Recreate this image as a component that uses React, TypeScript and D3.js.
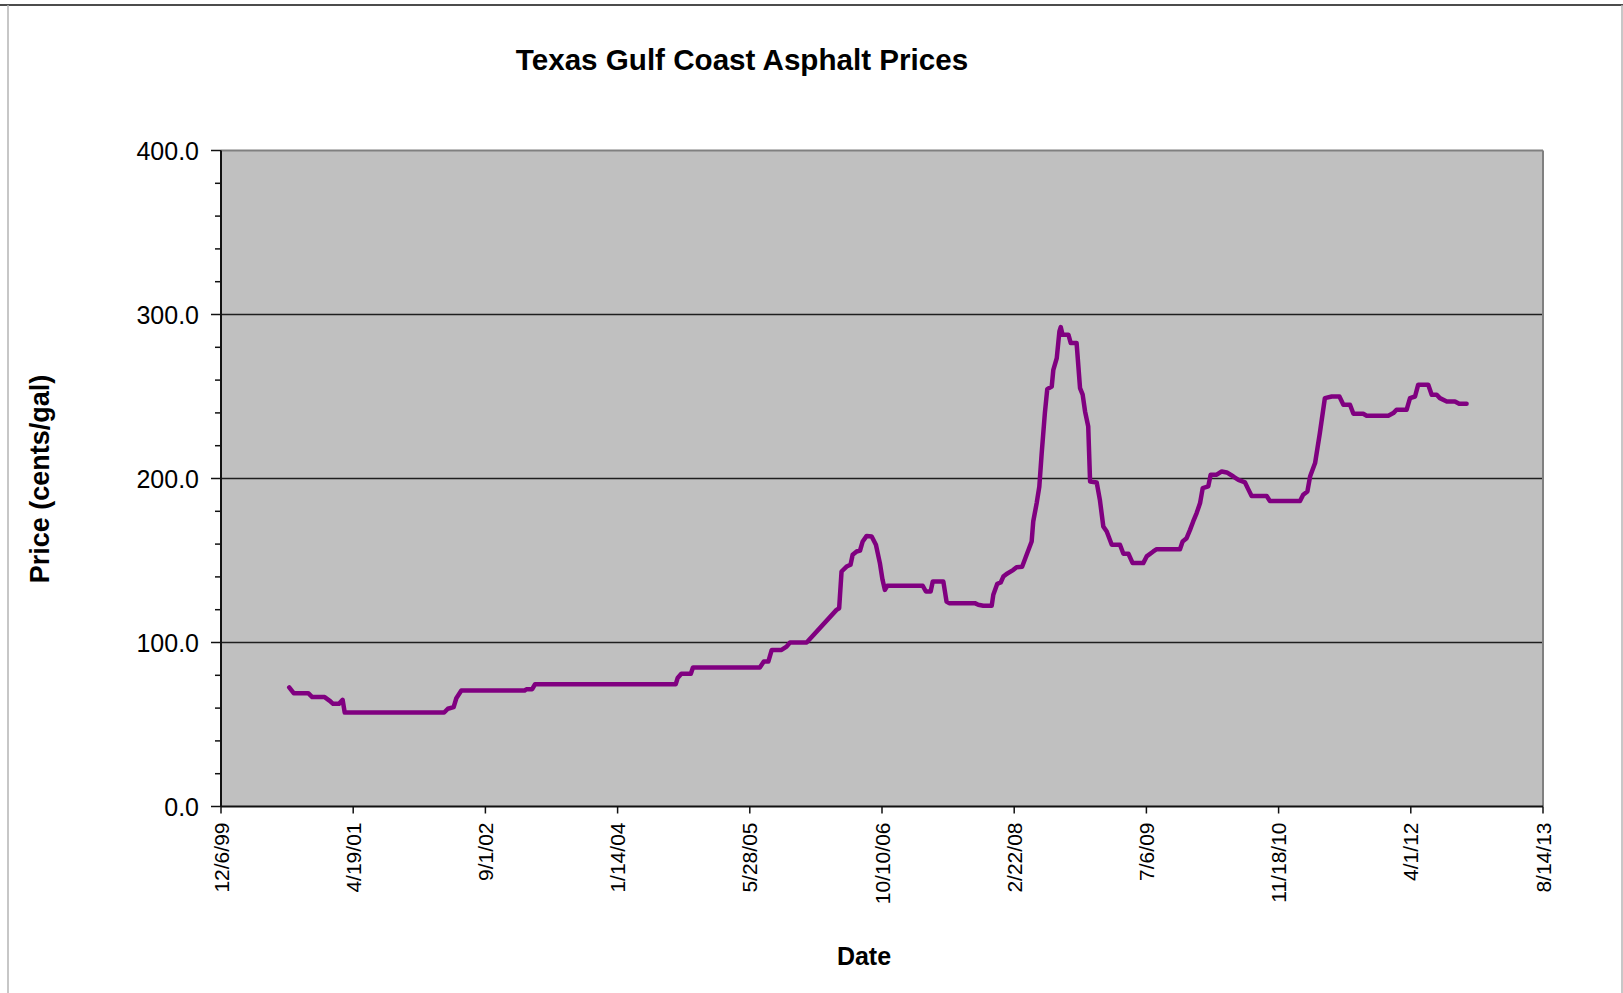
import React from "react";
import * as d3 from "d3";

// Weekly posted price series, cents per gallon
const priceDates = [
  "2000-08-20", "2000-09-06", "2000-10-31", "2000-11-15", "2001-01-01",
  "2001-01-19", "2001-02-02", "2001-02-24", "2001-03-10", "2001-03-18",
  "2002-03-29", "2002-04-12", "2002-05-04", "2002-05-14", "2002-06-02",
  "2003-01-27", "2003-02-03", "2003-02-25", "2003-03-08", "2004-08-21",
  "2004-08-28", "2004-09-11", "2004-10-17", "2004-10-25", "2005-07-05",
  "2005-07-20", "2005-08-06", "2005-08-19", "2005-09-25", "2005-10-14",
  "2005-10-27", "2005-12-29", "2006-04-21", "2006-05-01", "2006-05-10",
  "2006-05-29", "2006-06-13", "2006-06-21", "2006-07-06", "2006-07-19",
  "2006-07-29", "2006-08-13", "2006-09-01", "2006-09-17", "2006-10-02",
  "2006-10-12", "2006-10-21", "2006-10-30", "2007-03-13", "2007-03-25",
  "2007-04-12", "2007-04-20", "2007-05-30", "2007-06-11", "2007-06-21",
  "2007-09-26", "2007-10-09", "2007-10-28", "2007-11-29", "2007-12-05",
  "2007-12-20", "2008-01-02", "2008-01-12", "2008-01-24", "2008-02-19",
  "2008-03-02", "2008-03-23", "2008-04-09", "2008-04-28", "2008-05-04",
  "2008-05-17", "2008-05-27", "2008-06-05", "2008-06-17", "2008-06-26",
  "2008-07-13", "2008-07-19", "2008-08-01", "2008-08-11", "2008-08-16",
  "2008-08-23", "2008-09-14", "2008-09-23", "2008-10-15", "2008-10-28",
  "2008-11-07", "2008-11-16", "2008-11-28", "2008-12-05", "2008-12-30",
  "2009-01-11", "2009-01-24", "2009-02-06", "2009-02-25", "2009-03-28",
  "2009-04-10", "2009-04-29", "2009-05-15", "2009-06-24", "2009-07-07",
  "2009-08-01", "2009-08-14", "2009-11-10", "2009-11-20", "2009-12-05",
  "2009-12-18", "2009-12-30", "2010-01-12", "2010-01-25", "2010-02-04",
  "2010-02-25", "2010-03-06", "2010-03-29", "2010-04-17", "2010-05-06",
  "2010-05-31", "2010-06-19", "2010-07-14", "2010-07-26", "2010-08-08",
  "2010-10-04", "2010-10-16", "2011-02-07", "2011-02-19", "2011-03-07",
  "2011-03-17", "2011-04-05", "2011-04-23", "2011-05-12", "2011-06-07",
  "2011-07-06", "2011-07-21", "2011-08-15", "2011-08-28", "2011-10-04",
  "2011-10-17", "2012-01-07", "2012-01-26", "2012-02-07", "2012-03-16",
  "2012-03-29", "2012-04-17", "2012-04-29", "2012-06-06", "2012-06-19",
  "2012-07-08", "2012-07-20", "2012-08-15", "2012-09-15", "2012-10-01",
  "2012-10-29",
];

const prices = [
  72.6, 69.1, 69.1, 66.7, 66.7,
  64.6, 62.6, 62.6, 65.0, 57.3,
  57.3, 59.6, 60.6, 66.0, 70.7,
  70.7, 71.5, 71.5, 74.6, 74.6,
  78.3, 80.9, 80.9, 84.8, 84.8,
  88.4, 88.4, 95.5, 95.5, 97.5,
  100.0, 100.0, 119.9, 120.9, 143.3,
  146.3, 147.4, 153.5, 155.5, 156.1,
  161.6, 165.0, 164.6, 159.6, 148.4,
  138.2, 132.1, 134.6, 134.6, 131.1,
  131.1, 137.2, 137.2, 125.0, 124.0,
  124.0, 123.0, 122.4, 122.4, 129.1,
  135.8, 136.6, 140.2, 141.8, 144.3,
  145.9, 146.2, 153.5, 161.6, 173.8,
  185.0, 195.1, 215.5, 239.9, 254.5,
  256.1, 266.3, 273.4, 289.7, 292.3,
  287.7, 287.7, 282.6, 282.6, 255.1,
  251.1, 240.9, 231.7, 198.2, 197.6,
  187.0, 170.8, 167.7, 159.6, 159.6,
  154.1, 154.1, 148.4, 148.4, 152.5,
  155.5, 156.9, 156.9, 161.6, 163.6,
  168.7, 173.8, 178.9, 185.0, 194.1,
  195.2, 202.3, 202.3, 204.3, 203.7,
  201.2, 199.2, 197.6, 193.5, 189.3,
  189.3, 186.3, 186.3, 190.1, 192.1,
  201.2, 209.4, 227.7, 249.0, 250.0,
  250.0, 245.0, 245.0, 239.5, 239.5,
  238.3, 238.3, 239.9, 241.9, 241.9,
  249.0, 250.0, 257.2, 257.2, 251.1,
  251.1, 249.0, 247.0, 247.0, 245.6,
  245.6,
];

// Date axis labels (500-day major unit)
const xTickLabels = [
  "12/6/99", "4/19/01", "9/1/02", "1/14/04", "5/28/05", "10/10/06",
  "2/22/08", "7/6/09", "11/18/10", "4/1/12", "8/14/13",
];

const yMajorTicks = [0, 100, 200, 300, 400];
const yMinorTicks = d3.range(0, 401, 20).filter((v) => v % 100 !== 0);
const yGridLines = [100, 200, 300];

const chartTitle = "Texas Gulf Coast Asphalt Prices";
const yAxisTitle = "Price (cents/gal)";
const xAxisTitle = "Date";

const FONT = "'Liberation Sans', Arial, Helvetica, sans-serif";

export default function App() {
  const W = 1623;
  const H = 993;
  const plot = { left: 221, right: 1543, top: 150.5, bottom: 806.5 };

  const parseTick = d3.utcParse("%m/%d/%y");
  const parseIso = d3.utcParse("%Y-%m-%d");
  const tickDates = xTickLabels.map((s) => parseTick(s) as Date);

  const x = d3
    .scaleUtc()
    .domain([tickDates[0], tickDates[tickDates.length - 1]])
    .range([plot.left, plot.right]);
  const y = d3.scaleLinear().domain([0, 400]).range([plot.bottom, plot.top]);

  const points = priceDates.map((d, i) => ({
    date: parseIso(d) as Date,
    value: prices[i],
  }));

  const linePath =
    d3
      .line<{ date: Date; value: number }>()
      .x((d) => x(d.date))
      .y((d) => y(d.value))(points) || "";

  return (
    <svg
      width={W}
      height={H}
      viewBox={`0 0 ${W} ${H}`}
      style={{ position: "absolute", left: 0, top: 0, background: "#fff" }}
      fontFamily={FONT}
    >
      {/* chart area frame */}
      <line x1={0} x2={W} y1={5} y2={5} stroke="#111" strokeWidth={1.5} />
      <line x1={8} x2={8} y1={5} y2={H} stroke="#b5b5b5" strokeWidth={1.5} />
      <line x1={1622} x2={1622} y1={5} y2={H} stroke="#b5b5b5" strokeWidth={1.5} />

      {/* plot background */}
      <rect
        x={plot.left}
        y={plot.top}
        width={plot.right - plot.left}
        height={plot.bottom - plot.top}
        fill="#c0c0c0"
      />

      {/* gridlines */}
      {yGridLines.map((v) => (
        <line
          key={`g${v}`}
          x1={plot.left}
          x2={plot.right}
          y1={y(v)}
          y2={y(v)}
          stroke="#1e1e1e"
          strokeWidth={1.4}
        />
      ))}

      {/* plot border top/right */}
      <line x1={plot.left} x2={plot.right} y1={plot.top} y2={plot.top} stroke="#808080" strokeWidth={2} />
      <line x1={plot.right} x2={plot.right} y1={plot.top} y2={plot.bottom} stroke="#808080" strokeWidth={2} />

      {/* price line */}
      <path
        d={linePath}
        fill="none"
        stroke="#800080"
        strokeWidth={4.5}
        strokeLinejoin="round"
        strokeLinecap="round"
      />

      {/* y axis */}
      <line x1={plot.left} x2={plot.left} y1={plot.top} y2={plot.bottom} stroke="#111" strokeWidth={2} />
      {yMajorTicks.map((v) => (
        <g key={`ym${v}`}>
          <line x1={plot.left - 10} x2={plot.left} y1={y(v)} y2={y(v)} stroke="#111" strokeWidth={1.5} />
          <text
            x={199}
            y={y(v)}
            dy="0.36em"
            textAnchor="end"
            fontSize={25}
            fill="#000"
          >
            {d3.format(".1f")(v)}
          </text>
        </g>
      ))}
      {yMinorTicks.map((v) => (
        <line
          key={`yn${v}`}
          x1={plot.left - 6}
          x2={plot.left}
          y1={y(v)}
          y2={y(v)}
          stroke="#111"
          strokeWidth={1.5}
        />
      ))}

      {/* x axis */}
      <line x1={plot.left} x2={plot.right} y1={plot.bottom} y2={plot.bottom} stroke="#111" strokeWidth={2} />
      {tickDates.map((d, i) => (
        <g key={`xt${i}`}>
          <line x1={x(d)} x2={x(d)} y1={plot.bottom} y2={plot.bottom + 7} stroke="#111" strokeWidth={1.5} />
          <text
            transform={`translate(${x(d)},${plot.bottom + 16}) rotate(-90)`}
            dy="0.36em"
            textAnchor="end"
            fontSize={21}
            fill="#000"
          >
            {xTickLabels[i]}
          </text>
        </g>
      ))}

      {/* titles */}
      <text x={742} y={70} textAnchor="middle" fontSize={29.6} fontWeight="bold" fill="#000">
        {chartTitle}
      </text>
      <text
        transform={`translate(49,479) rotate(-90)`}
        textAnchor="middle"
        fontSize={27}
        fontWeight="bold"
        fill="#000"
      >
        {yAxisTitle}
      </text>
      <text x={864} y={965} textAnchor="middle" fontSize={25} fontWeight="bold" fill="#000">
        {xAxisTitle}
      </text>
    </svg>
  );
}
